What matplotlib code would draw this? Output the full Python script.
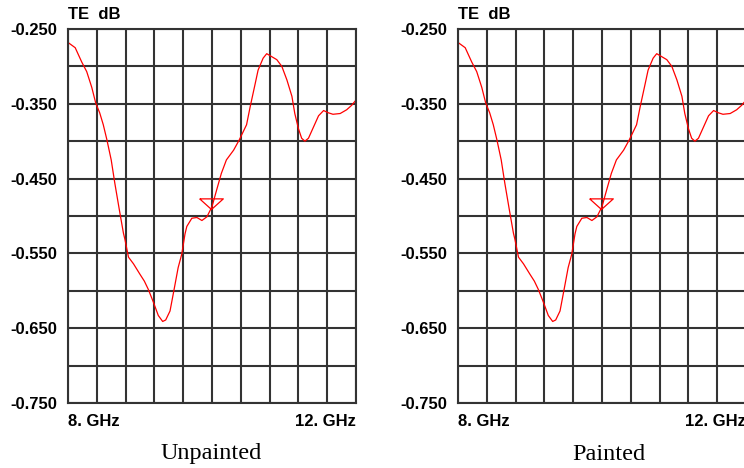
import numpy as np
import matplotlib
matplotlib.use("Agg")
import matplotlib.pyplot as plt

# TE (dB) vs frequency (GHz)
freq = [8.00, 8.10, 8.19, 8.26, 8.33, 8.385, 8.44, 8.49, 8.54, 8.60, 8.65, 8.71,
        8.77, 8.79, 8.84, 8.91, 9.00, 9.06, 9.115, 9.185, 9.254, 9.315, 9.357,
        9.417, 9.47, 9.53, 9.58, 9.625, 9.65, 9.72, 9.79, 9.86, 9.93, 10.00,
        10.065, 10.13, 10.20, 10.30, 10.38, 10.48, 10.53, 10.60, 10.64, 10.71,
        10.76, 10.83, 10.90, 10.97, 11.04, 11.11, 11.15, 11.20, 11.245, 11.29,
        11.34, 11.41, 11.48, 11.55, 11.615, 11.68, 11.78, 11.87, 11.94, 12.00]
unpainted_te = [-0.268, -0.275, -0.294, -0.307, -0.328, -0.349, -0.362, -0.378,
                -0.398, -0.425, -0.456, -0.490, -0.523, -0.531, -0.555, -0.564,
                -0.578, -0.587, -0.598, -0.615, -0.633, -0.641, -0.639, -0.627,
                -0.600, -0.569, -0.551, -0.524, -0.514, -0.503, -0.502, -0.506,
                -0.501, -0.4875, -0.465, -0.443, -0.425, -0.412, -0.398, -0.378,
                -0.354, -0.323, -0.305, -0.289, -0.283, -0.287, -0.291, -0.300,
                -0.318, -0.340, -0.363, -0.383, -0.396, -0.400, -0.396, -0.381,
                -0.366, -0.359, -0.362, -0.364, -0.363, -0.358, -0.352, -0.345]
painted_te = list(unpainted_te)  # the two traces are indistinguishable

marker_freq = 9.98
marker_te = -0.490

y_labeled = [-0.250, -0.350, -0.450, -0.550, -0.650, -0.750]
x_labels = ["8. GHz", "12. GHz"]
captions = ["Unpainted", "Painted"]

grid_col = "#333333"
W, H = 744, 468
fig = plt.figure(figsize=(W / 100, H / 100), dpi=100)

tri = [(-1.0, 0.9), (1.0, 0.9), (0.0, 0.0), (-1.0, 0.9)]

panels = [(68, unpainted_te, 211), (458, painted_te, 609)]
for (left_px, te, cap_x), cap in zip(panels, captions):
    ax = fig.add_axes([left_px / W, 65 / H, 288 / W, 374 / H])
    ax.plot(freq, te, color="red", lw=0.9)
    ax.plot([marker_freq], [marker_te], marker=tri, markersize=17,
            markerfacecolor="none", markeredgecolor="red", mew=0.9, ls="none")
    ax.set_xlim(8, 12)
    ax.set_ylim(-0.75, -0.25)

    xt = np.linspace(8, 12, 11)
    ax.set_xticks(xt)
    ax.set_xticklabels([x_labels[0]] + [""] * 9 + [x_labels[1]])
    yt = np.linspace(-0.75, -0.25, 11)
    ax.set_yticks(yt)
    ax.set_yticklabels([f"{v:.3f}" if any(abs(v - l) < 1e-9 for l in y_labeled) else ""
                        for v in yt])
    ax.grid(True, color=grid_col, lw=1.5)
    ax.set_axisbelow(True)
    ax.tick_params(length=0, labelsize=12, pad=8, colors="black")
    for lab in ax.get_xticklabels() + ax.get_yticklabels():
        lab.set_fontfamily("Liberation Sans")
        lab.set_fontweight("bold")
    xl = ax.get_xticklabels()
    xl[0].set_ha("left")
    xl[-1].set_ha("right")
    for s in ax.spines.values():
        s.set_color(grid_col)
        s.set_linewidth(1.5)

    ax.text(0.0, 1.02, "TE  dB", transform=ax.transAxes, ha="left", va="bottom",
            fontsize=12, fontweight="bold", family="Liberation Sans")
    fig.text(cap_x / W, 1 - 454 / H, cap, ha="center", va="center",
             fontsize=17.5, family="Liberation Serif")

fig.savefig("out.png", dpi=100)
